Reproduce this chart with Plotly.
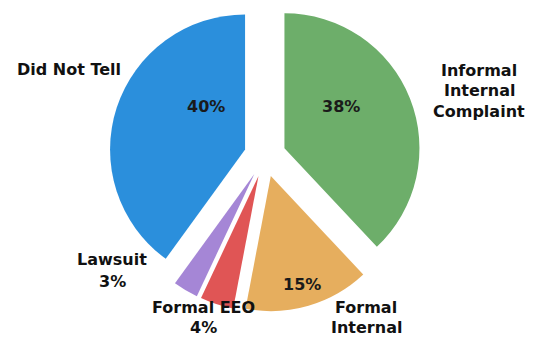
import plotly.graph_objects as go

# Data
categories = ["Informal Internal Complaint", "Formal Internal", "Formal EEO", "Lawsuit", "Did Not Tell"]
values = [38, 15, 4, 3, 40]
percent_labels = ["38%", "15%", "", "", "40%"]
# outside label lines for each slice
outside_lines = [
    ["Informal", "Internal", "Complaint"],
    ["Formal", "Internal"],
    ["Formal EEO", "4%"],
    ["Lawsuit", "3%"],
    ["Did Not Tell"],
]
colors = ["#6DAE6A", "#E6AE5E", "#E05555", "#A586D6", "#2B8FDC"]

W, H = 535, 338
# (center x, first line y, line spacing) in pixels
label_px = [(479, 71, 20), (366, 307, 20.5), (203, 307, 20.5), (112, 259, 22), (69, 69, 0)]
percent_px = [(341, 107), (302, 284), None, None, (206, 107)]

fig = go.Figure()
fig.add_trace(go.Pie(
    labels=categories,
    values=values,
    sort=False,
    direction="clockwise",
    rotation=0,
    pull=[0.155] * len(values),
    marker=dict(colors=colors, line=dict(width=0)),
    textinfo="none",
    hoverinfo="label+value",
    domain=dict(x=[0.2038, 0.7868], y=[0.0771, 0.99985]),
    showlegend=False,
))

FONT = "DejaVu Sans"
annotations = []
for lines, (px, py, dy) in zip(outside_lines, label_px):
    for i, line in enumerate(lines):
        annotations.append(dict(
            text="<b>" + line + "</b>",
            x=px / W, y=1 - (py + i * dy) / H, xref="paper", yref="paper",
            xanchor="center", yanchor="middle", showarrow=False,
            font=dict(family=FONT, size=16, color="#111111"),
        ))
for lab, pos in zip(percent_labels, percent_px):
    if not lab:
        continue
    px, py = pos
    annotations.append(dict(
        text="<b>" + lab + "</b>",
        x=px / W, y=1 - py / H, xref="paper", yref="paper",
        xanchor="center", yanchor="middle", showarrow=False,
        font=dict(family=FONT, size=16, color="#1a1a1a"),
    ))

fig.update_layout(
    width=W, height=H,
    margin=dict(l=0, r=0, t=0, b=0),
    paper_bgcolor="white",
    plot_bgcolor="white",
    annotations=annotations,
)

fig.write_html("out.html")
